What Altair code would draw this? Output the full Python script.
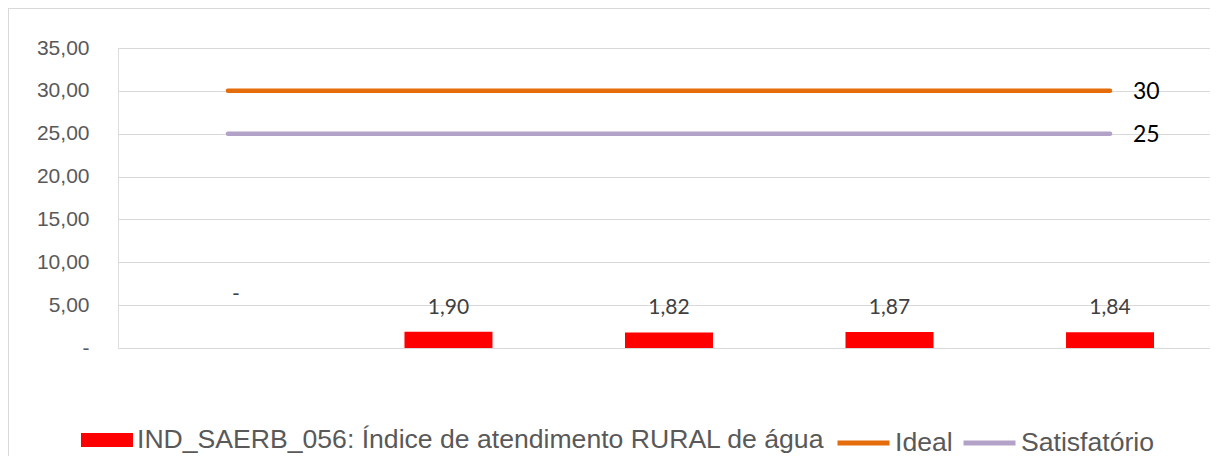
import altair as alt
import pandas as pd

categories = ["C1", "C2", "C3", "C4", "C5"]
indice = [0.0, 1.90, 1.82, 1.87, 1.84]
ideal = [30, 30, 30, 30, 30]
satisfatorio = [25, 25, 25, 25, 25]
bar_name = "IND_SAERB_056: Índice de atendimento RURAL de água"
line_names = ["Ideal", "Satisfatório"]
y_ticks = [0, 5, 10, 15, 20, 25, 30, 35]

bars_df = pd.DataFrame({"cat": categories, "valor": indice, "serie": bar_name})
lines_df = pd.DataFrame({
    "cat": categories * 2,
    "valor": ideal + satisfatorio,
    "serie": [line_names[0]] * len(categories) + [line_names[1]] * len(categories),
})
end_df = lines_df[lines_df["cat"] == categories[-1]]

x = alt.X("cat:N", sort=categories, axis=None,
          scale=alt.Scale(paddingInner=0.6, paddingOuter=0.276, align=0.541))
y = alt.Y("valor:Q",
          scale=alt.Scale(domain=[0, 35], nice=False),
          axis=alt.Axis(values=y_ticks, title=None, domain=False, ticks=False,
                        labelPadding=29, gridColor="#D9D9D9", gridWidth=1,
                        labelFont="Liberation Sans", labelFontSize=21,
                        labelColor="#595959",
                        labelExpr="datum.value == 0 ? '-\u00a0\u00a0' : replace(format(datum.value, '.2f'), '.', ',')"))

frame_df = pd.DataFrame({"a": [0]})
frame_top = alt.Chart(frame_df).mark_rule(color="#D9D9D9", strokeWidth=1).encode(
    x=alt.value(-110), x2=alt.value(1200), y=alt.value(-39.5))
frame_left = alt.Chart(frame_df).mark_rule(color="#D9D9D9", strokeWidth=1).encode(
    x=alt.value(-109.5), y=alt.value(-40), y2=alt.value(500))

bars = alt.Chart(bars_df).mark_bar(size=88).encode(
    x=x, y=y,
    fill=alt.Fill("serie:N",
                  scale=alt.Scale(domain=[bar_name], range=["#FF0000"]),
                  legend=alt.Legend(title=None, orient="none", legendX=-37, legendY=366,
                                    direction="horizontal",
                                    symbolType="M-1,-0.27L1,-0.27L1,0.27L-1,0.27Z",
                                    symbolSize=2704, symbolStrokeWidth=0,
                                    labelFont="Liberation Sans", labelFontSize=26.6,
                                    labelColor="#595959", labelOffset=4,
                                    labelLimit=1000)),
)

lines = alt.Chart(lines_df).mark_line(strokeWidth=4.5, strokeCap="round").encode(
    x=x, y=y,
    stroke=alt.Stroke("serie:N",
                      scale=alt.Scale(domain=line_names, range=["#E46C0A", "#B3A2C7"]),
                      legend=alt.Legend(title=None, orient="none", legendX=717, legendY=366,
                                        direction="horizontal",
                                        symbolType="stroke", symbolSize=2704,
                                        symbolStrokeWidth=5,
                                        labelFont="Liberation Sans", labelFontSize=26.6,
                                        labelColor="#595959", labelOffset=3,
                                        columnPadding=0, labelLimit=1000)),
    detail="serie:N",
)

labels_pos = alt.Chart(bars_df).transform_filter("datum.valor != 0").transform_calculate(
    lbl="replace(format(datum.valor, '.2f'), '.', ',')"
).mark_text(font="Lato", fontSize=21, color="#404040", baseline="alphabetic", dy=-18).encode(
    x=x, y=y, text="lbl:N"
)

labels_zero = alt.Chart(bars_df).transform_filter("datum.valor == 0").transform_calculate(
    lbl="'-'"
).mark_text(font="Lato", fontSize=21, color="#404040", baseline="alphabetic", dy=-47, dx=8).encode(
    x=x, y=y, text="lbl:N"
)

end_labels = alt.Chart(end_df).transform_calculate(
    lbl="format(datum.valor, 'd')"
).mark_text(font="Lato", fontSize=23, color="#000000", align="left", baseline="middle", dx=23, dy=1).encode(
    x=x, y=y, text="lbl:N"
)

chart = alt.layer(frame_top, frame_left, bars, lines, labels_pos, labels_zero, end_labels).resolve_scale(
    fill="independent", stroke="independent"
).properties(
    width=1092, height=300,
    autosize=alt.AutoSizeParams(type="none"),
    padding={"left": 110, "top": 40, "right": 0, "bottom": 108},
).configure_view(stroke=None).configure(background="white")

chart.save("out.html", embed_options={"renderer": "svg", "actions": False})
